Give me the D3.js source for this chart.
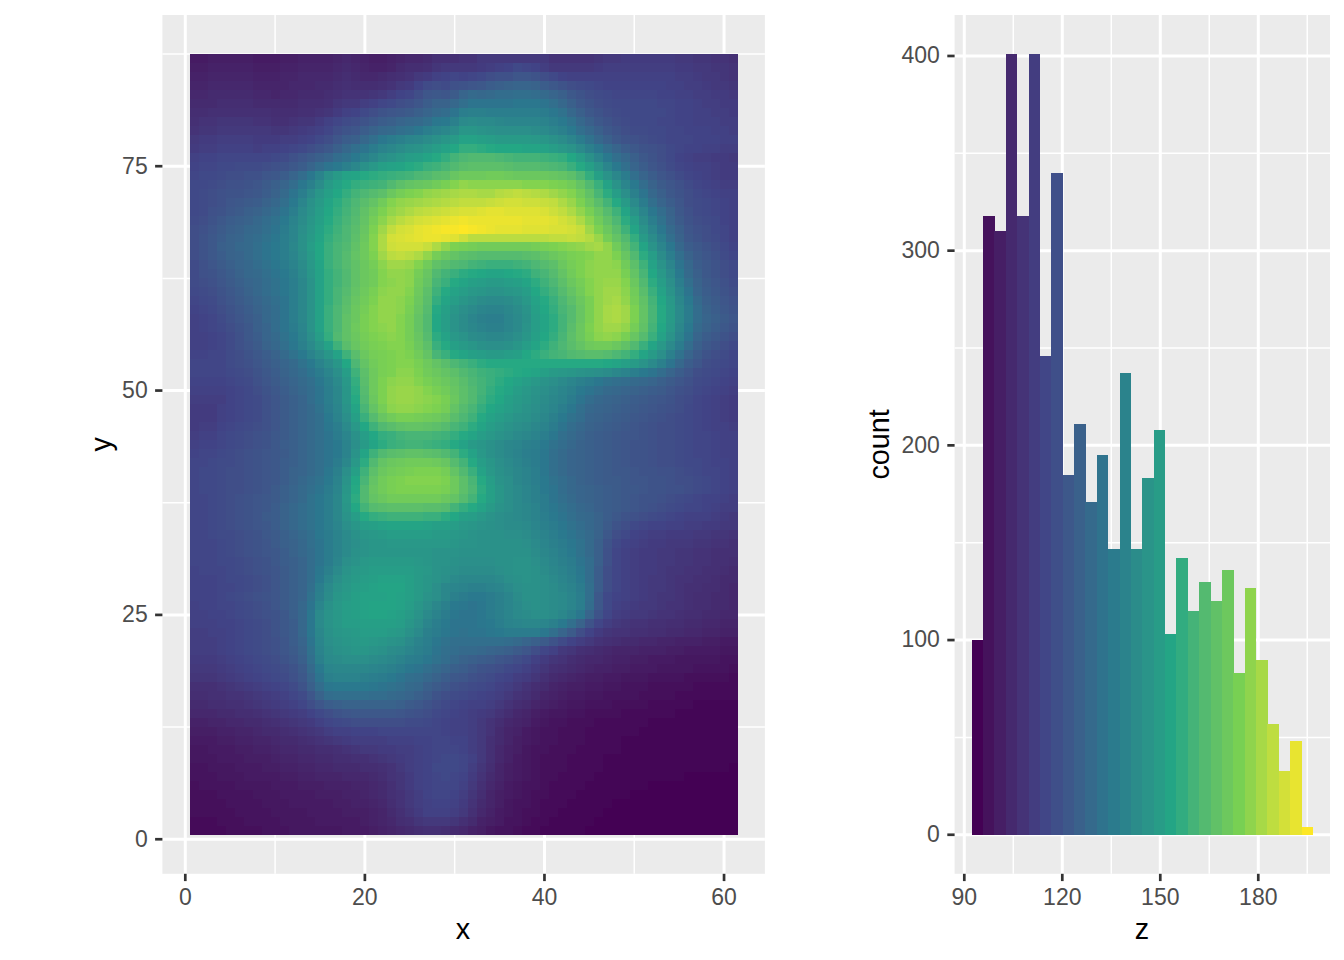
<!DOCTYPE html>
<html><head><meta charset="utf-8">
<script src="https://cdn.jsdelivr.net/npm/d3@7"></script>
<style>html,body{margin:0;padding:0;background:#fff}svg{display:block}text{font-family:"Liberation Sans",Arial,sans-serif}</style>
</head><body><svg id="c" width="1344" height="960"></svg>
<script>
const histCounts=[100,318,310,401,318,401,246,340,185,211,171,195,147,237,147,183,208,103,142,115,130,120,136,83,127,90,57,33,48,4];
const viridisStops=["#440154","#414487","#2A788E","#22A884","#7AD151","#FDE725"];
const xTicks=[0,20,40,60],xMinor=[10,30,50];
const yTicks=[0,25,50,75],yMinor=[12.5,37.5,62.5,87.5];
const zTicks=[90,120,150,180],zMinor=[105,135,165,195];
const countTicks=[0,100,200,300,400],countMinor=[50,150,250,350];
const elevation=[
[100,100,101,101,101,101,101,100,100,100,101,101,102,102,102,102,103,104,103,102,101,101,102,103,104,104,105,107,107,107,108,108,110,110,110,110,110,110,110,110,108,108,108,108,108,109,110,110,111,111,111,111,111,111,110,110,109,109,108,108,107],
[101,101,102,102,102,102,102,101,101,101,102,102,103,103,103,103,104,105,104,103,102,102,103,105,106,106,107,109,110,110,110,110,111,112,113,114,116,115,114,112,110,110,110,110,110,111,112,112,112,112,112,112,112,112,111,111,110,110,109,109,108],
[102,102,103,103,103,103,103,102,102,102,103,103,104,104,104,104,105,106,105,104,104,105,106,107,108,110,111,113,114,115,114,115,116,118,119,119,121,121,120,118,116,114,113,113,113,113,113,113,113,113,113,113,113,113,112,112,111,110,110,109,108],
[103,103,104,104,104,104,104,103,103,103,103,104,104,104,105,105,106,107,106,106,106,107,108,110,111,114,117,118,117,119,120,121,122,124,125,126,127,127,126,124,122,120,118,117,116,115,114,114,114,114,114,114,114,113,113,112,112,111,110,110,109],
[104,104,105,105,105,105,105,104,104,103,104,104,105,105,105,106,107,108,108,108,109,110,112,114,115,118,121,122,121,123,127,129,128,129,130,130,131,131,130,129,127,125,122,120,118,117,116,115,115,115,115,115,114,114,113,113,112,112,111,111,110],
[105,105,105,106,106,106,106,105,105,105,105,105,106,106,106,107,109,110,110,112,113,115,116,118,119,121,124,126,126,128,131,133,133,133,133,133,134,134,134,133,131,128,125,122,120,118,117,116,116,116,116,116,115,115,114,114,113,112,112,111,111],
[106,106,107,107,107,107,107,107,107,106,106,106,107,107,108,109,111,113,114,116,118,120,121,122,123,125,127,129,130,133,137,138,138,137,137,137,137,137,137,136,134,132,128,125,122,120,118,117,116,116,116,116,116,115,114,114,113,113,112,112,111],
[107,108,108,109,109,109,109,108,108,107,107,108,109,109,111,113,115,117,118,120,122,124,125,127,128,129,131,134,135,138,142,143,142,142,141,140,140,140,140,139,137,135,132,128,125,122,120,118,117,116,116,116,115,115,114,114,113,113,113,112,112],
[108,109,109,110,110,110,110,110,110,109,109,110,111,112,113,115,118,120,121,124,126,128,129,131,132,134,137,139,141,143,147,147,146,145,144,144,144,144,143,142,140,138,135,131,128,125,122,120,118,117,117,116,116,115,115,114,114,114,113,113,112],
[110,111,111,112,112,112,112,111,111,111,112,112,113,114,116,118,121,124,125,128,131,134,136,138,140,141,143,145,147,149,152,152,151,150,149,149,149,149,148,147,145,143,140,136,132,128,125,122,120,119,118,117,116,115,115,115,114,114,114,113,113],
[111,112,112,113,113,113,113,112,113,113,114,115,116,118,120,122,125,128,131,133,136,139,141,143,145,146,148,150,152,154,157,157,156,155,154,154,154,153,153,152,150,148,146,142,138,134,130,127,124,122,120,119,118,116,115,114,114,113,113,112,112],
[113,114,114,115,115,115,115,115,115,116,117,119,121,123,125,127,130,132,135,138,141,144,146,148,150,151,153,155,157,160,162,163,163,163,162,161,160,160,160,159,158,157,154,150,145,140,135,131,128,125,122,120,118,116,114,113,112,112,111,111,110],
[114,115,115,116,116,117,117,117,118,119,120,122,124,127,130,133,135,138,141,145,148,151,152,153,155,156,158,159,161,163,165,166,166,166,166,165,164,164,164,163,162,161,158,155,151,146,140,135,131,127,124,121,119,117,115,114,113,113,112,111,111],
[115,116,116,117,118,118,119,119,121,122,124,127,130,134,139,145,149,152,153,155,156,157,158,159,160,162,163,165,166,169,171,171,171,172,172,171,170,170,170,170,169,168,166,162,157,151,146,141,136,131,127,124,121,119,117,115,114,113,112,111,111],
[116,116,117,118,119,119,120,121,123,125,127,130,134,138,143,149,152,155,157,158,159,160,163,166,168,169,170,172,174,176,178,177,177,177,177,177,177,176,176,176,175,174,172,168,163,158,152,146,140,135,130,126,123,121,119,117,115,114,113,112,112],
[116,117,118,119,120,120,121,122,124,126,129,133,137,142,147,151,154,157,160,162,164,166,170,173,175,176,178,179,180,181,182,182,181,181,183,184,185,184,183,182,180,178,176,172,167,161,156,150,144,138,133,128,125,122,120,118,116,115,114,113,113],
[116,117,118,119,121,122,123,124,126,128,131,135,140,145,149,153,156,159,162,165,168,172,176,178,179,180,181,182,183,184,185,185,185,186,187,188,188,187,187,186,185,182,179,175,170,165,160,155,149,142,136,131,127,124,121,118,117,116,115,114,113],
[116,117,119,120,122,123,125,126,128,130,133,137,142,146,150,154,157,160,163,167,171,175,178,180,182,184,185,186,187,188,189,189,190,191,191,190,190,190,190,189,187,185,182,178,174,169,164,159,153,146,140,134,130,126,122,119,117,116,115,114,113],
[117,118,120,122,124,125,126,128,130,132,135,139,143,147,151,155,158,161,164,168,173,177,181,184,186,188,189,190,191,192,193,192,192,192,192,192,192,191,191,191,190,188,186,182,177,172,167,162,156,150,143,137,132,127,123,120,118,117,116,114,113],
[118,119,121,123,125,126,128,129,131,133,136,140,144,148,152,156,159,162,165,169,175,180,185,188,189,191,192,193,194,194,195,194,193,192,191,191,191,190,190,190,189,189,188,186,180,175,170,165,159,153,146,140,134,129,125,121,119,118,116,115,113],
[118,120,122,124,126,127,129,130,132,134,137,140,145,149,153,157,160,162,166,170,176,182,188,189,190,191,192,192,191,190,187,184,184,184,184,184,184,184,184,184,185,185,186,185,183,179,173,168,163,157,149,143,137,131,126,122,120,118,117,115,113],
[118,120,122,125,126,128,129,131,133,135,137,141,145,150,154,158,161,163,167,171,176,182,187,188,188,188,186,182,178,175,174,173,172,172,172,172,172,172,173,174,175,176,177,178,180,181,178,172,166,160,153,146,140,134,128,124,122,120,118,116,114],
[118,120,122,124,126,127,129,131,133,135,137,140,144,149,154,158,161,164,168,171,175,180,184,185,184,182,178,173,170,168,166,165,164,164,164,164,164,165,166,168,170,172,174,175,176,178,178,175,169,163,156,150,143,137,131,126,123,121,119,117,115],
[117,119,121,123,125,127,128,130,132,134,136,139,143,148,153,158,161,164,167,170,173,177,180,180,179,176,172,167,165,163,162,160,159,158,158,158,159,160,162,164,166,170,173,175,177,178,178,177,172,166,159,152,146,140,133,128,124,122,120,118,116],
[117,119,120,122,124,126,128,129,131,133,135,138,142,147,152,157,160,163,167,170,172,176,178,178,177,173,169,163,160,158,156,155,154,153,153,154,155,156,159,161,164,168,172,175,177,178,178,178,174,168,161,154,148,142,135,129,125,122,120,118,116],
[117,118,119,121,123,125,127,128,130,132,134,137,141,146,152,157,160,163,167,170,172,176,177,178,177,172,168,161,158,155,153,151,150,149,149,150,151,153,156,159,162,166,170,173,176,178,179,179,176,170,163,156,150,144,137,131,126,123,121,119,117],
[116,117,118,120,122,124,126,128,130,132,134,137,141,146,152,157,161,164,168,171,174,177,178,178,176,171,166,159,155,152,150,148,147,146,146,147,148,150,154,157,160,164,168,172,176,178,180,180,177,172,165,158,152,146,139,133,127,124,122,120,118],
[115,116,117,119,121,123,125,127,129,131,133,137,141,146,152,157,161,165,169,172,175,178,178,177,175,170,165,157,153,150,147,145,143,142,142,143,145,148,152,155,158,162,166,170,174,178,180,181,178,173,167,160,154,148,141,135,129,125,123,121,119],
[114,115,116,118,120,122,124,126,128,130,133,137,141,146,152,158,162,166,170,173,176,178,178,177,174,169,164,155,151,147,144,142,140,139,139,141,143,146,151,154,157,161,164,169,174,178,181,182,180,175,168,161,155,149,142,136,130,126,124,122,120],
[113,114,115,117,119,121,123,125,128,130,133,137,141,146,152,158,162,167,170,174,176,178,178,176,173,168,163,154,150,146,143,140,138,137,137,140,142,145,150,153,156,160,164,169,174,178,181,182,180,175,168,161,155,149,142,136,130,127,125,123,121],
[113,114,115,116,118,120,122,125,127,130,133,136,140,146,152,158,162,167,171,174,176,177,178,176,173,168,163,154,150,146,143,141,139,138,138,140,142,146,150,153,156,160,165,170,175,178,180,180,178,173,167,160,154,148,141,135,129,126,124,122,120],
[113,113,114,115,117,119,122,124,127,129,132,135,139,144,150,157,163,167,170,173,175,176,177,176,173,169,164,156,152,148,146,143,142,141,141,142,144,147,151,154,157,161,166,170,174,177,178,177,174,169,164,158,152,146,139,133,127,124,122,120,118],
[113,113,114,115,117,119,121,123,126,128,131,134,138,142,147,152,159,165,169,172,174,175,176,176,174,170,166,158,155,151,149,147,145,144,144,145,147,150,153,156,159,162,165,168,171,172,172,170,167,163,158,153,148,142,136,130,125,122,120,118,116],
[114,114,115,115,117,118,120,122,124,126,129,132,135,139,143,147,152,159,165,170,173,174,175,176,175,172,168,161,158,155,153,151,150,149,149,150,151,154,156,158,160,161,163,164,165,165,164,162,160,157,153,149,144,138,132,127,123,120,118,117,115],
[115,115,115,115,117,118,119,121,123,125,127,129,132,135,139,143,147,154,162,168,172,174,175,176,176,174,171,168,165,162,160,158,156,155,155,155,155,155,155,155,155,155,155,155,155,155,154,153,151,149,146,142,138,133,128,124,121,118,117,116,115],
[115,115,115,115,116,117,118,120,122,124,126,128,130,133,136,140,144,150,159,166,171,174,175,177,177,175,172,170,168,166,163,161,159,158,157,156,155,154,153,151,149,148,147,146,145,144,143,141,139,137,135,133,130,127,124,121,118,117,116,115,114],
[114,114,114,114,115,116,117,119,121,123,125,127,129,131,134,138,142,148,157,165,171,175,177,178,178,176,174,172,170,168,165,162,160,158,156,154,152,150,148,146,144,142,140,138,136,134,132,131,130,129,128,127,125,123,121,119,117,116,115,114,113],
[113,113,113,113,114,115,116,118,120,122,124,126,128,130,133,137,141,147,156,164,171,175,178,179,179,178,176,174,172,169,166,163,160,157,155,153,150,148,146,144,142,140,138,135,133,131,129,128,127,126,125,124,123,121,119,118,116,115,114,113,112],
[112,112,112,112,114,115,116,117,119,121,123,125,127,130,133,137,141,147,155,163,170,175,178,179,179,178,177,176,174,170,166,163,159,156,154,151,149,147,145,143,141,139,136,133,130,128,127,126,125,124,123,122,121,120,118,117,115,114,113,112,111],
[111,111,111,113,114,115,116,117,119,121,123,125,127,129,132,136,140,146,153,161,168,173,177,178,178,177,176,175,173,168,164,161,157,154,152,150,148,146,144,142,140,137,134,131,128,127,126,125,124,123,122,121,120,119,118,116,115,114,113,112,111],
[111,111,111,113,114,115,116,117,119,121,123,125,127,129,131,135,139,144,151,158,164,169,172,174,174,173,172,171,169,165,162,159,155,152,150,148,146,145,143,141,138,135,132,130,127,126,125,124,123,122,121,120,119,118,117,116,115,114,113,112,111],
[111,112,112,114,115,116,117,118,119,121,123,125,127,129,131,134,137,142,148,154,159,163,165,167,168,168,167,166,164,161,159,156,153,150,148,146,144,143,141,139,136,133,130,128,126,125,124,123,122,121,120,119,118,118,117,116,115,114,113,113,112],
[112,113,113,115,116,117,118,119,120,122,123,125,127,129,131,133,136,140,145,150,154,157,158,160,161,161,161,160,159,157,155,153,150,148,146,144,142,141,139,137,134,131,129,127,125,124,123,122,121,121,120,119,118,118,117,116,115,115,114,113,113],
[113,114,114,115,116,117,118,119,120,122,124,125,127,129,131,133,135,139,144,149,153,156,158,159,160,160,159,158,157,155,152,149,147,145,143,141,140,138,137,135,132,130,128,126,125,124,123,122,121,120,120,119,118,118,117,116,115,115,114,113,113],
[114,115,115,116,117,118,119,120,121,122,123,125,127,129,131,133,135,139,146,153,159,163,165,166,167,167,166,165,163,160,156,152,148,145,143,141,139,137,136,134,131,129,127,126,125,124,123,122,121,120,120,119,118,118,117,116,115,115,114,113,113],
[115,115,116,117,117,118,119,120,121,122,124,125,127,129,131,133,136,141,148,156,163,168,170,171,172,172,172,171,169,164,160,155,150,147,144,142,140,138,136,134,131,129,127,126,125,124,123,122,121,120,120,119,118,118,117,116,116,115,114,114,113],
[115,116,116,117,118,118,119,120,121,122,124,126,127,129,131,134,138,144,151,159,166,170,172,173,174,175,175,175,173,168,163,158,152,148,145,143,141,139,137,134,131,129,127,126,125,124,123,122,122,121,120,120,119,119,118,117,116,115,115,114,113],
[115,116,116,117,118,118,119,120,121,122,124,126,128,130,132,135,139,146,154,161,168,172,174,175,176,176,176,176,175,171,166,161,155,150,146,144,141,139,137,135,132,130,128,126,125,124,123,123,122,121,121,120,120,119,118,118,117,116,115,114,113],
[115,116,116,117,118,118,119,120,121,123,125,127,129,131,133,136,140,147,155,163,169,172,174,175,175,175,175,175,174,171,166,162,156,151,147,144,142,140,138,135,133,130,128,127,126,125,124,123,122,122,121,120,120,119,119,118,117,116,115,114,113],
[115,115,116,117,118,119,120,121,122,123,125,127,129,132,134,137,141,148,156,163,168,170,172,172,172,172,172,172,170,168,164,160,155,151,147,144,142,140,138,136,133,131,129,127,126,125,124,123,122,121,120,120,119,118,117,116,115,114,114,113,112],
[115,115,116,117,118,119,120,121,122,124,126,128,130,132,134,137,141,147,154,160,164,165,166,166,166,166,165,165,164,160,157,155,152,149,146,144,142,141,139,136,134,132,130,128,127,125,124,123,122,121,120,119,118,117,116,115,115,114,113,112,112],
[115,115,116,117,118,119,120,121,123,124,126,128,130,132,134,137,141,146,150,155,157,158,159,159,159,159,158,158,156,154,151,150,148,146,144,143,142,141,139,137,135,133,131,129,128,126,124,122,120,119,118,117,116,115,114,113,113,113,112,111,110],
[115,115,116,117,118,119,120,121,122,124,126,128,130,132,134,137,140,144,147,150,151,152,153,153,153,153,152,151,151,150,148,147,146,145,144,143,143,142,140,138,136,134,132,130,128,126,123,120,118,116,115,114,114,113,113,112,112,111,111,110,110],
[115,115,116,117,117,118,119,120,122,123,125,127,129,131,134,136,139,142,145,147,148,149,150,150,150,150,150,149,149,148,147,146,145,145,145,144,144,143,141,139,137,135,133,131,129,126,122,118,116,114,113,112,112,111,111,111,110,110,109,109,108],
[115,115,115,116,117,118,119,120,121,123,125,126,128,131,133,136,139,142,144,146,147,147,148,148,148,148,148,148,148,147,146,146,145,145,145,145,145,144,142,140,138,136,134,132,129,125,120,116,114,113,112,111,111,110,110,110,109,109,108,108,107],
[115,115,115,116,117,118,119,120,121,122,124,126,128,130,133,136,139,142,145,146,147,147,147,147,147,147,147,146,146,146,145,145,145,145,145,145,145,145,143,141,139,137,135,132,129,125,119,115,113,112,111,111,110,110,109,109,108,108,107,107,107],
[115,115,115,116,116,117,118,119,120,122,124,125,127,130,133,136,140,144,146,148,149,149,149,149,149,148,147,146,146,145,144,144,144,144,145,145,146,146,144,142,140,138,136,133,130,125,119,115,113,112,111,111,110,110,109,109,108,108,107,107,106],
[114,115,115,115,116,117,118,119,120,121,123,125,127,130,134,138,142,146,148,149,150,150,150,150,150,149,148,146,145,144,143,143,143,143,144,145,146,146,145,143,141,139,137,134,130,124,118,115,113,112,111,111,110,109,109,108,108,107,107,106,105],
[114,114,114,115,116,116,117,118,119,121,123,125,127,130,135,140,144,147,149,150,151,152,152,152,151,149,147,146,144,142,141,141,141,141,142,144,145,146,145,144,142,140,138,135,130,124,118,115,113,112,111,110,110,109,108,108,107,107,106,105,105],
[114,114,114,115,115,116,117,118,119,121,123,125,127,131,137,142,146,148,150,151,152,153,153,153,151,149,147,144,141,140,139,138,138,139,140,142,144,145,145,144,143,141,139,136,131,124,118,115,113,112,111,110,110,109,108,107,107,106,106,105,104],
[114,114,114,115,116,117,118,119,120,121,123,125,127,132,138,143,147,149,151,152,152,152,153,152,151,149,146,144,141,138,136,135,135,136,138,140,143,145,145,144,143,142,140,137,131,122,116,114,113,112,111,110,109,109,108,107,106,106,105,105,104],
[113,114,114,115,115,116,117,118,119,121,123,125,128,133,140,145,148,150,151,152,153,153,153,152,150,147,144,141,138,135,134,133,134,136,138,140,142,144,145,144,143,142,140,137,130,122,116,113,112,111,110,110,109,108,108,107,106,106,105,105,104],
[113,113,114,114,115,116,117,118,119,120,122,125,128,134,142,146,148,150,151,152,153,153,152,151,149,146,142,139,136,134,133,133,134,136,138,140,142,143,144,144,143,141,138,134,127,120,115,112,111,110,110,109,108,108,107,106,106,105,105,104,104],
[113,113,113,114,114,115,116,117,118,120,122,124,128,134,142,146,148,150,150,151,151,151,151,150,147,144,140,137,135,133,133,133,134,135,137,139,140,141,141,140,138,135,131,126,120,115,112,110,109,108,108,107,107,106,106,105,105,104,104,103,103],
[112,112,113,113,114,115,116,117,118,120,122,124,128,134,141,145,147,148,149,150,150,150,149,148,145,142,138,136,134,133,132,133,133,134,135,136,136,136,136,134,131,127,123,118,114,111,109,108,108,107,107,106,106,105,105,104,104,103,103,102,102],
[112,112,112,113,114,115,116,117,118,119,121,124,127,133,140,144,146,147,148,149,148,147,146,145,142,139,137,134,132,131,131,131,131,131,131,130,129,127,125,123,120,117,114,112,110,108,107,106,105,105,104,104,103,103,102,102,102,101,101,100,100],
[112,112,112,113,114,115,116,117,118,119,121,123,126,132,139,143,145,146,147,147,146,145,143,142,140,138,136,133,131,130,129,129,128,127,126,125,123,121,118,115,113,110,109,107,106,105,104,103,103,103,102,102,102,101,101,100,100,100,100,99,99],
[111,111,111,112,113,114,115,116,117,118,120,122,125,131,138,142,143,144,144,144,143,142,141,139,137,136,134,132,130,128,126,125,124,123,121,120,118,116,113,111,109,108,106,105,104,104,103,102,102,101,101,100,100,100,99,99,99,99,99,98,98],
[110,110,110,111,112,113,114,115,116,117,118,120,123,129,135,140,141,141,141,141,140,139,138,136,134,133,131,129,127,125,124,122,120,119,118,116,115,113,111,109,107,106,105,104,103,102,102,101,101,100,100,100,99,99,99,99,98,98,98,98,97],
[109,109,109,110,111,112,113,114,115,116,117,119,122,127,133,138,139,139,139,138,137,136,135,133,131,130,128,126,124,122,121,119,118,117,115,114,112,111,109,107,105,104,103,102,101,101,100,100,99,99,99,98,98,98,98,97,97,97,97,97,96],
[107,107,107,108,109,110,111,112,113,114,115,117,120,125,130,134,135,135,135,135,134,133,132,131,129,128,125,123,121,119,118,117,116,115,113,112,110,108,106,105,103,102,101,101,100,100,99,99,98,98,98,97,97,97,97,97,96,96,96,96,96],
[106,106,107,107,108,108,109,110,111,112,113,115,117,121,126,130,131,131,131,131,130,130,129,128,127,125,123,120,118,117,116,115,114,113,112,110,108,107,105,103,102,101,100,100,99,99,98,98,98,98,97,97,97,97,96,96,96,96,96,96,96],
[105,105,106,106,107,107,108,109,110,111,112,113,115,118,121,124,125,126,126,126,126,126,126,125,123,122,120,118,116,115,114,113,113,112,110,108,106,105,103,102,101,100,99,99,98,98,98,97,97,97,97,96,96,96,96,96,95,95,95,95,95],
[104,104,104,105,105,106,106,107,108,109,110,111,112,114,116,118,120,121,122,122,122,122,122,121,120,119,118,116,115,114,113,112,111,110,108,106,104,103,101,100,99,99,98,98,97,97,97,97,96,96,96,96,96,96,95,95,95,95,95,95,95],
[102,102,103,103,104,104,105,105,106,107,108,109,110,111,113,115,116,117,118,118,118,118,118,118,117,117,116,115,114,113,113,112,110,108,106,104,103,102,100,99,98,98,97,97,97,96,96,96,96,96,96,95,95,95,95,95,95,95,95,95,95],
[101,101,101,102,102,103,103,104,105,105,106,107,108,109,110,112,113,113,114,114,114,115,115,115,115,115,115,115,114,113,113,112,110,108,105,103,102,100,99,98,98,97,97,97,96,96,96,96,96,96,95,95,95,95,95,95,95,95,95,95,95],
[100,100,100,101,101,102,102,103,103,104,105,105,106,107,108,109,110,111,112,112,112,112,113,113,113,114,114,115,115,114,114,112,110,107,105,103,101,100,99,98,98,97,97,97,96,96,96,96,95,95,95,95,95,95,95,95,95,95,95,95,95],
[99,99,100,100,100,101,101,102,102,103,104,104,105,105,106,106,107,108,109,110,110,111,111,112,112,113,114,115,115,115,114,112,110,107,104,102,101,99,98,98,97,97,97,96,96,96,96,96,95,95,95,95,95,95,95,95,95,95,95,95,95],
[99,99,99,100,100,100,101,101,101,102,103,103,104,104,105,105,106,106,107,107,108,109,110,111,112,113,114,115,116,116,115,113,110,107,104,102,100,99,98,97,97,97,96,96,96,96,95,95,95,95,95,95,95,95,95,95,95,95,95,95,95],
[98,98,99,99,99,100,100,100,101,101,102,102,103,103,104,104,105,105,105,106,106,107,108,110,112,113,114,116,116,116,115,112,109,106,103,101,100,99,98,97,97,97,96,96,96,96,95,95,95,95,95,95,95,95,95,95,95,95,95,95,94],
[98,98,98,99,99,99,100,100,100,100,101,101,102,102,103,103,103,104,104,104,105,106,108,109,111,113,114,115,116,115,114,111,108,105,103,101,100,99,98,97,97,96,96,96,96,95,95,95,95,95,95,95,95,95,95,94,94,94,94,94,94],
[97,98,98,98,98,99,99,99,99,100,100,100,101,101,101,102,102,102,103,103,104,105,107,109,111,113,114,115,115,115,113,110,107,104,102,100,99,98,98,97,96,96,96,96,95,95,95,95,95,95,95,94,94,94,94,94,94,94,94,94,94],
[97,97,97,98,98,98,98,99,99,99,100,100,100,100,101,101,101,102,102,103,104,105,107,108,110,112,114,115,115,114,112,109,106,103,101,100,99,98,97,97,96,96,96,95,95,95,95,95,95,94,94,94,94,94,94,94,94,94,94,94,94],
[97,97,97,97,98,98,98,98,99,99,99,100,100,100,100,100,101,101,102,102,103,104,106,108,110,112,113,114,114,113,111,108,105,103,101,99,98,98,97,96,96,96,95,95,95,95,95,94,94,94,94,94,94,94,94,94,94,94,94,94,94],
[97,97,97,97,97,98,98,98,98,99,99,99,99,100,100,100,100,101,101,101,102,103,105,107,109,111,113,113,113,112,110,107,104,102,100,99,98,97,97,96,96,95,95,95,95,95,94,94,94,94,94,94,94,94,94,94,94,94,94,94,94],
[96,96,96,97,97,97,98,98,98,98,99,99,99,99,100,100,100,100,100,101,102,103,104,106,107,109,110,110,110,109,107,105,102,101,100,98,98,97,96,96,95,95,95,95,95,94,94,94,94,94,94,94,94,94,94,94,94,94,94,94,94],
[96,96,96,96,97,97,97,97,98,98,98,99,99,99,99,99,99,100,100,100,101,102,103,104,105,106,107,107,106,105,104,102,101,99,98,98,97,96,96,95,95,95,95,95,94,94,94,94,94,94,94,94,94,94,94,94,94,94,94,94,94]
];
const svg=d3.select("#c");
const fill=d3.scaleLinear().domain(d3.range(6).map(i=>94+i*(195-94)/5)).range(viridisStops).interpolate(d3.interpolateLab);
function panel(x,y,xT,xM,yT,yM){
  const [x0,x1]=x.range(),[y1,y0]=y.range();
  const g=svg.append("g");
  g.append("rect").attr("x",x0).attr("y",y0).attr("width",x1-x0).attr("height",y1-y0).attr("fill","#EBEBEB");
  const line=(v,w,vert)=>g.append("line").attr("stroke","#fff").attr("stroke-width",w)
    .attr("x1",vert?x(v):x0).attr("x2",vert?x(v):x1).attr("y1",vert?y0:y(v)).attr("y2",vert?y1:y(v));
  xM.forEach(v=>line(v,1.5,true));yM.forEach(v=>line(v,1.5,false));
  xT.forEach(v=>line(v,3,true));yT.forEach(v=>line(v,3,false));
  return g;
}
function axes(x,y,xT,yT,xName,yName,xNameX,yNameX){
  const y1=y.range()[0],x0=x.range()[0],cy=(y.range()[0]+y.range()[1])/2;
  const ax=svg.append("g").attr("transform",`translate(0,${y1})`).call(d3.axisBottom(x).offset(0).tickValues(xT).tickSize(7.3).tickPadding(7.6));
  const ay=svg.append("g").attr("transform",`translate(${x0},0)`).call(d3.axisLeft(y).offset(0).tickValues(yT).tickSize(7.3).tickPadding(7.4));
  [ax,ay].forEach(a=>{a.select(".domain").remove();a.selectAll(".tick line").attr("stroke","#333").attr("stroke-width",2.7);
    a.selectAll("text").attr("fill","#4D4D4D").style("font-size","23px").style("font-family",'"Liberation Sans"');});
  svg.append("text").attr("x",xNameX).attr("y",939).attr("text-anchor","middle").style("font-size","28.8px").text(xName);
  svg.append("text").attr("transform",`translate(${yNameX},${cy}) rotate(-90)`).attr("text-anchor","middle").style("font-size","28.8px").text(yName);
}
const xL=d3.scaleLinear().domain([-2.55,64.55]).range([162.4,764.9]);
const yL=d3.scaleLinear().domain([-3.85,91.85]).range([873.8,15]);
const gL=panel(xL,yL,xTicks,xMinor,yTicks,yMinor);
const cells=[];elevation.forEach((row,r)=>row.forEach((v,c)=>cells.push({col:c+1,yv:87-r,v})));
gL.append("g").attr("shape-rendering","crispEdges").selectAll("rect").data(cells).join("rect")
  .attr("x",d=>xL(d.col-.5)).attr("y",d=>yL(d.yv+.5))
  .attr("width",d=>xL(d.col+.5)-xL(d.col-.5)+.4).attr("height",d=>yL(d.yv-.5)-yL(d.yv+.5)+.4)
  .attr("fill",d=>fill(d.v));
axes(xL,yL,xTicks,yTicks,"x","y",463,111);
const binW=(195-94)/29;
const xR=d3.scaleLinear().domain([87.03,201.96]).range([954.6,1330]);
const yR=d3.scaleLinear().domain([-20.05,421.05]).range([873.8,15]);
const gR=panel(xR,yR,zTicks,zMinor,countTicks,countMinor);
gR.append("g").attr("shape-rendering","crispEdges").selectAll("rect").data(histCounts).join("rect")
  .attr("x",(d,i)=>xR(94+i*binW-binW/2)).attr("width",xR(binW)-xR(0)+.3)
  .attr("y",d=>yR(d)).attr("height",d=>yR(0)-yR(d))
  .attr("fill",(d,i)=>fill(94+i*binW));
axes(xR,yR,zTicks,countTicks,"z","count",1142,889);
</script></body></html>
